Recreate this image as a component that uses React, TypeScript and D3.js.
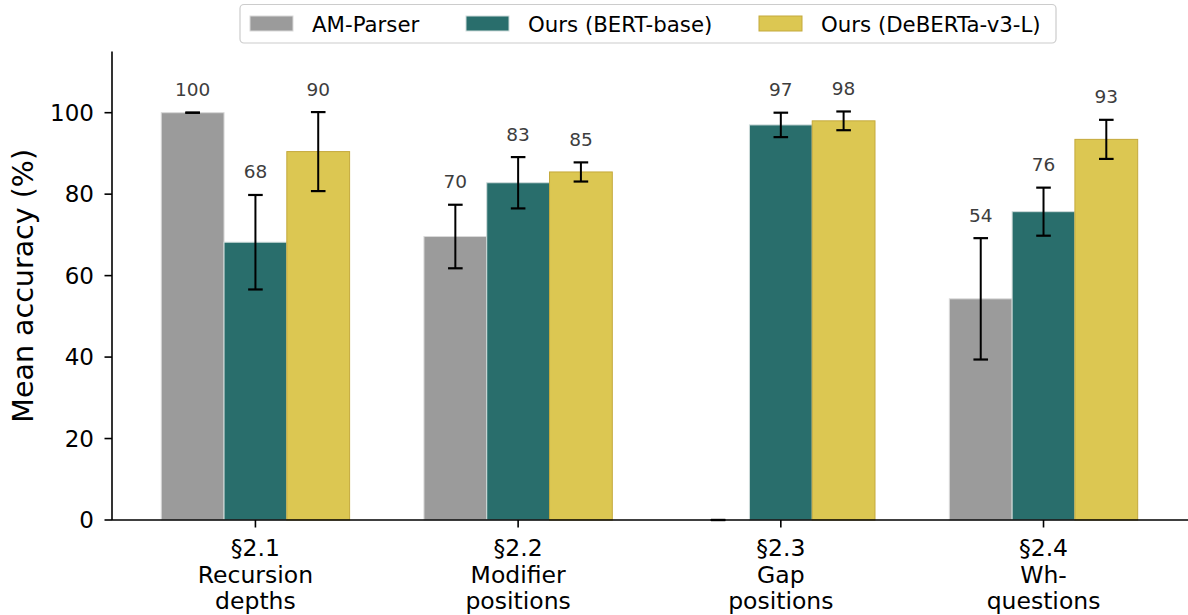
import { useEffect, useRef } from 'react';
import * as d3 from 'd3';

const SECTIONS = ['§2.1', '§2.2', '§2.3', '§2.4'];
const TASK_NAMES = [['Recursion', 'depths'], ['Modifier', 'positions'], ['Gap', 'positions'], ['Wh-', 'questions']];
const SERIES = ['AM-Parser', 'Ours (BERT-base)', 'Ours (DeBERTa-v3-L)'];
const AM_MEAN = [100, 69.6, 0, 54.3];
const AM_ERR = [0, 7.8, 0, 14.9];
const BERT_MEAN = [68.2, 82.8, 97.0, 75.7];
const BERT_ERR = [11.6, 6.3, 3.0, 5.9];
const DEBERTA_MEAN = [90.45, 85.45, 98.0, 93.45];
const DEBERTA_ERR = [9.7, 2.35, 2.3, 4.8];
const Y_TICKS = [0, 20, 40, 60, 80, 100];

const FILLS = ['#9b9b9b', '#296e6c', '#dcc752'];
const EDGES = ['#d9d9d9', '#cfdcdb', '#c4a93c'];
const FONT = 'DejaVu Sans, sans-serif';

const W = 1188;
const H = 615;

export default function App() {
  const svgRef = useRef<SVGSVGElement>(null);

  useEffect(() => {
    const svg = d3.select(svgRef.current);
    svg.selectAll('*').remove();

    const means = [AM_MEAN, BERT_MEAN, DEBERTA_MEAN];
    const errs = [AM_ERR, BERT_ERR, DEBERTA_ERR];

    const x = d3.scaleLinear().domain([-0.546, 3.55]).range([112, 1188]);
    const y = d3.scaleLinear().domain([0, 115]).range([520, 51.6]);
    const barW = x(0.239) - x(0);

    // bars
    means.forEach((vals, s) => {
      const off = (s - 1) * 0.239;
      svg
        .append('g')
        .selectAll('rect')
        .data(vals)
        .enter()
        .append('rect')
        .attr('x', (_, i) => x(i + off) - barW / 2)
        .attr('y', (d) => y(d))
        .attr('width', barW)
        .attr('height', (d) => y(0) - y(d))
        .attr('fill', FILLS[s])
        .attr('stroke', EDGES[s])
        .attr('stroke-width', 1);
    });

    // error bars + value labels
    means.forEach((vals, s) => {
      const off = (s - 1) * 0.239;
      const g = svg.append('g');
      vals.forEach((v, i) => {
        const e = errs[s][i];
        const cx = x(i + off);
        const top = y(v + e);
        const bot = y(v - e);
        g.append('line').attr('x1', cx).attr('x2', cx).attr('y1', top).attr('y2', bot)
          .attr('stroke', '#000').attr('stroke-width', 2);
        [top, bot].forEach((yy) => {
          g.append('line').attr('x1', cx - 7.3).attr('x2', cx + 7.3).attr('y1', yy).attr('y2', yy)
            .attr('stroke', '#000').attr('stroke-width', 2.2);
        });
        if (v > 0) {
          g.append('text')
            .attr('x', cx)
            .attr('y', top - 16.5)
            .attr('text-anchor', 'middle')
            .attr('font-family', FONT)
            .attr('font-size', 18.5)
            .attr('fill', '#3d3d3d')
            .text(Math.round(v));
        }
      });
    });

    // y axis
    const yAxis = svg.append('g');
    yAxis.append('line').attr('x1', 112).attr('x2', 112).attr('y1', y(115)).attr('y2', y(0))
      .attr('stroke', '#000').attr('stroke-width', 1.6);
    Y_TICKS.forEach((t) => {
      yAxis.append('line').attr('x1', 104.5).attr('x2', 112).attr('y1', y(t)).attr('y2', y(t))
        .attr('stroke', '#000').attr('stroke-width', 1.6);
      yAxis.append('text')
        .attr('x', 94)
        .attr('y', y(t) + 8.2)
        .attr('text-anchor', 'end')
        .attr('font-family', FONT)
        .attr('font-size', 23)
        .attr('fill', '#000')
        .text(t);
    });
    svg.append('text')
      .attr('transform', `translate(33,${(y(0) + y(115)) / 2}) rotate(-90)`)
      .attr('text-anchor', 'middle')
      .attr('font-family', FONT)
      .attr('font-size', 28.5)
      .attr('fill', '#000')
      .text('Mean accuracy (%)');

    // x axis
    const xAxis = svg.append('g');
    xAxis.append('line').attr('x1', 112).attr('x2', 1188).attr('y1', y(0)).attr('y2', y(0))
      .attr('stroke', '#000').attr('stroke-width', 1.6);
    SECTIONS.forEach((sec, i) => {
      const cx = x(i);
      xAxis.append('line').attr('x1', cx).attr('x2', cx).attr('y1', y(0)).attr('y2', y(0) + 7.5)
        .attr('stroke', '#000').attr('stroke-width', 1.6);
      const lines = [sec, ...TASK_NAMES[i]];
      lines.forEach((ln, k) => {
        xAxis.append('text')
          .attr('x', cx)
          .attr('y', 556 + k * 26.5)
          .attr('text-anchor', 'middle')
          .attr('font-family', FONT)
          .attr('font-size', 23.5)
          .attr('fill', '#000')
          .text(ln);
      });
    });

    // legend
    const leg = svg.append('g');
    leg.append('rect').attr('x', 240).attr('y', 4.5).attr('width', 816).attr('height', 38.5).attr('rx', 4)
      .attr('fill', '#fff').attr('stroke', '#cccccc').attr('stroke-width', 1.2);
    const patchX = [250, 466, 759];
    SERIES.forEach((name, s) => {
      leg.append('rect').attr('x', patchX[s]).attr('y', 16).attr('width', 43).attr('height', 15)
        .attr('fill', FILLS[s]).attr('stroke', EDGES[s]).attr('stroke-width', 1);
      leg.append('text')
        .attr('x', patchX[s] + 62)
        .attr('y', 31.5)
        .attr('font-family', FONT)
        .attr('font-size', 21.3)
        .attr('fill', '#000')
        .text(name);
    });
  }, []);

  return (
    <svg
      ref={svgRef}
      width={W}
      height={H}
      style={{ position: 'absolute', left: 0, top: 0, background: '#fff' }}
    />
  );
}
